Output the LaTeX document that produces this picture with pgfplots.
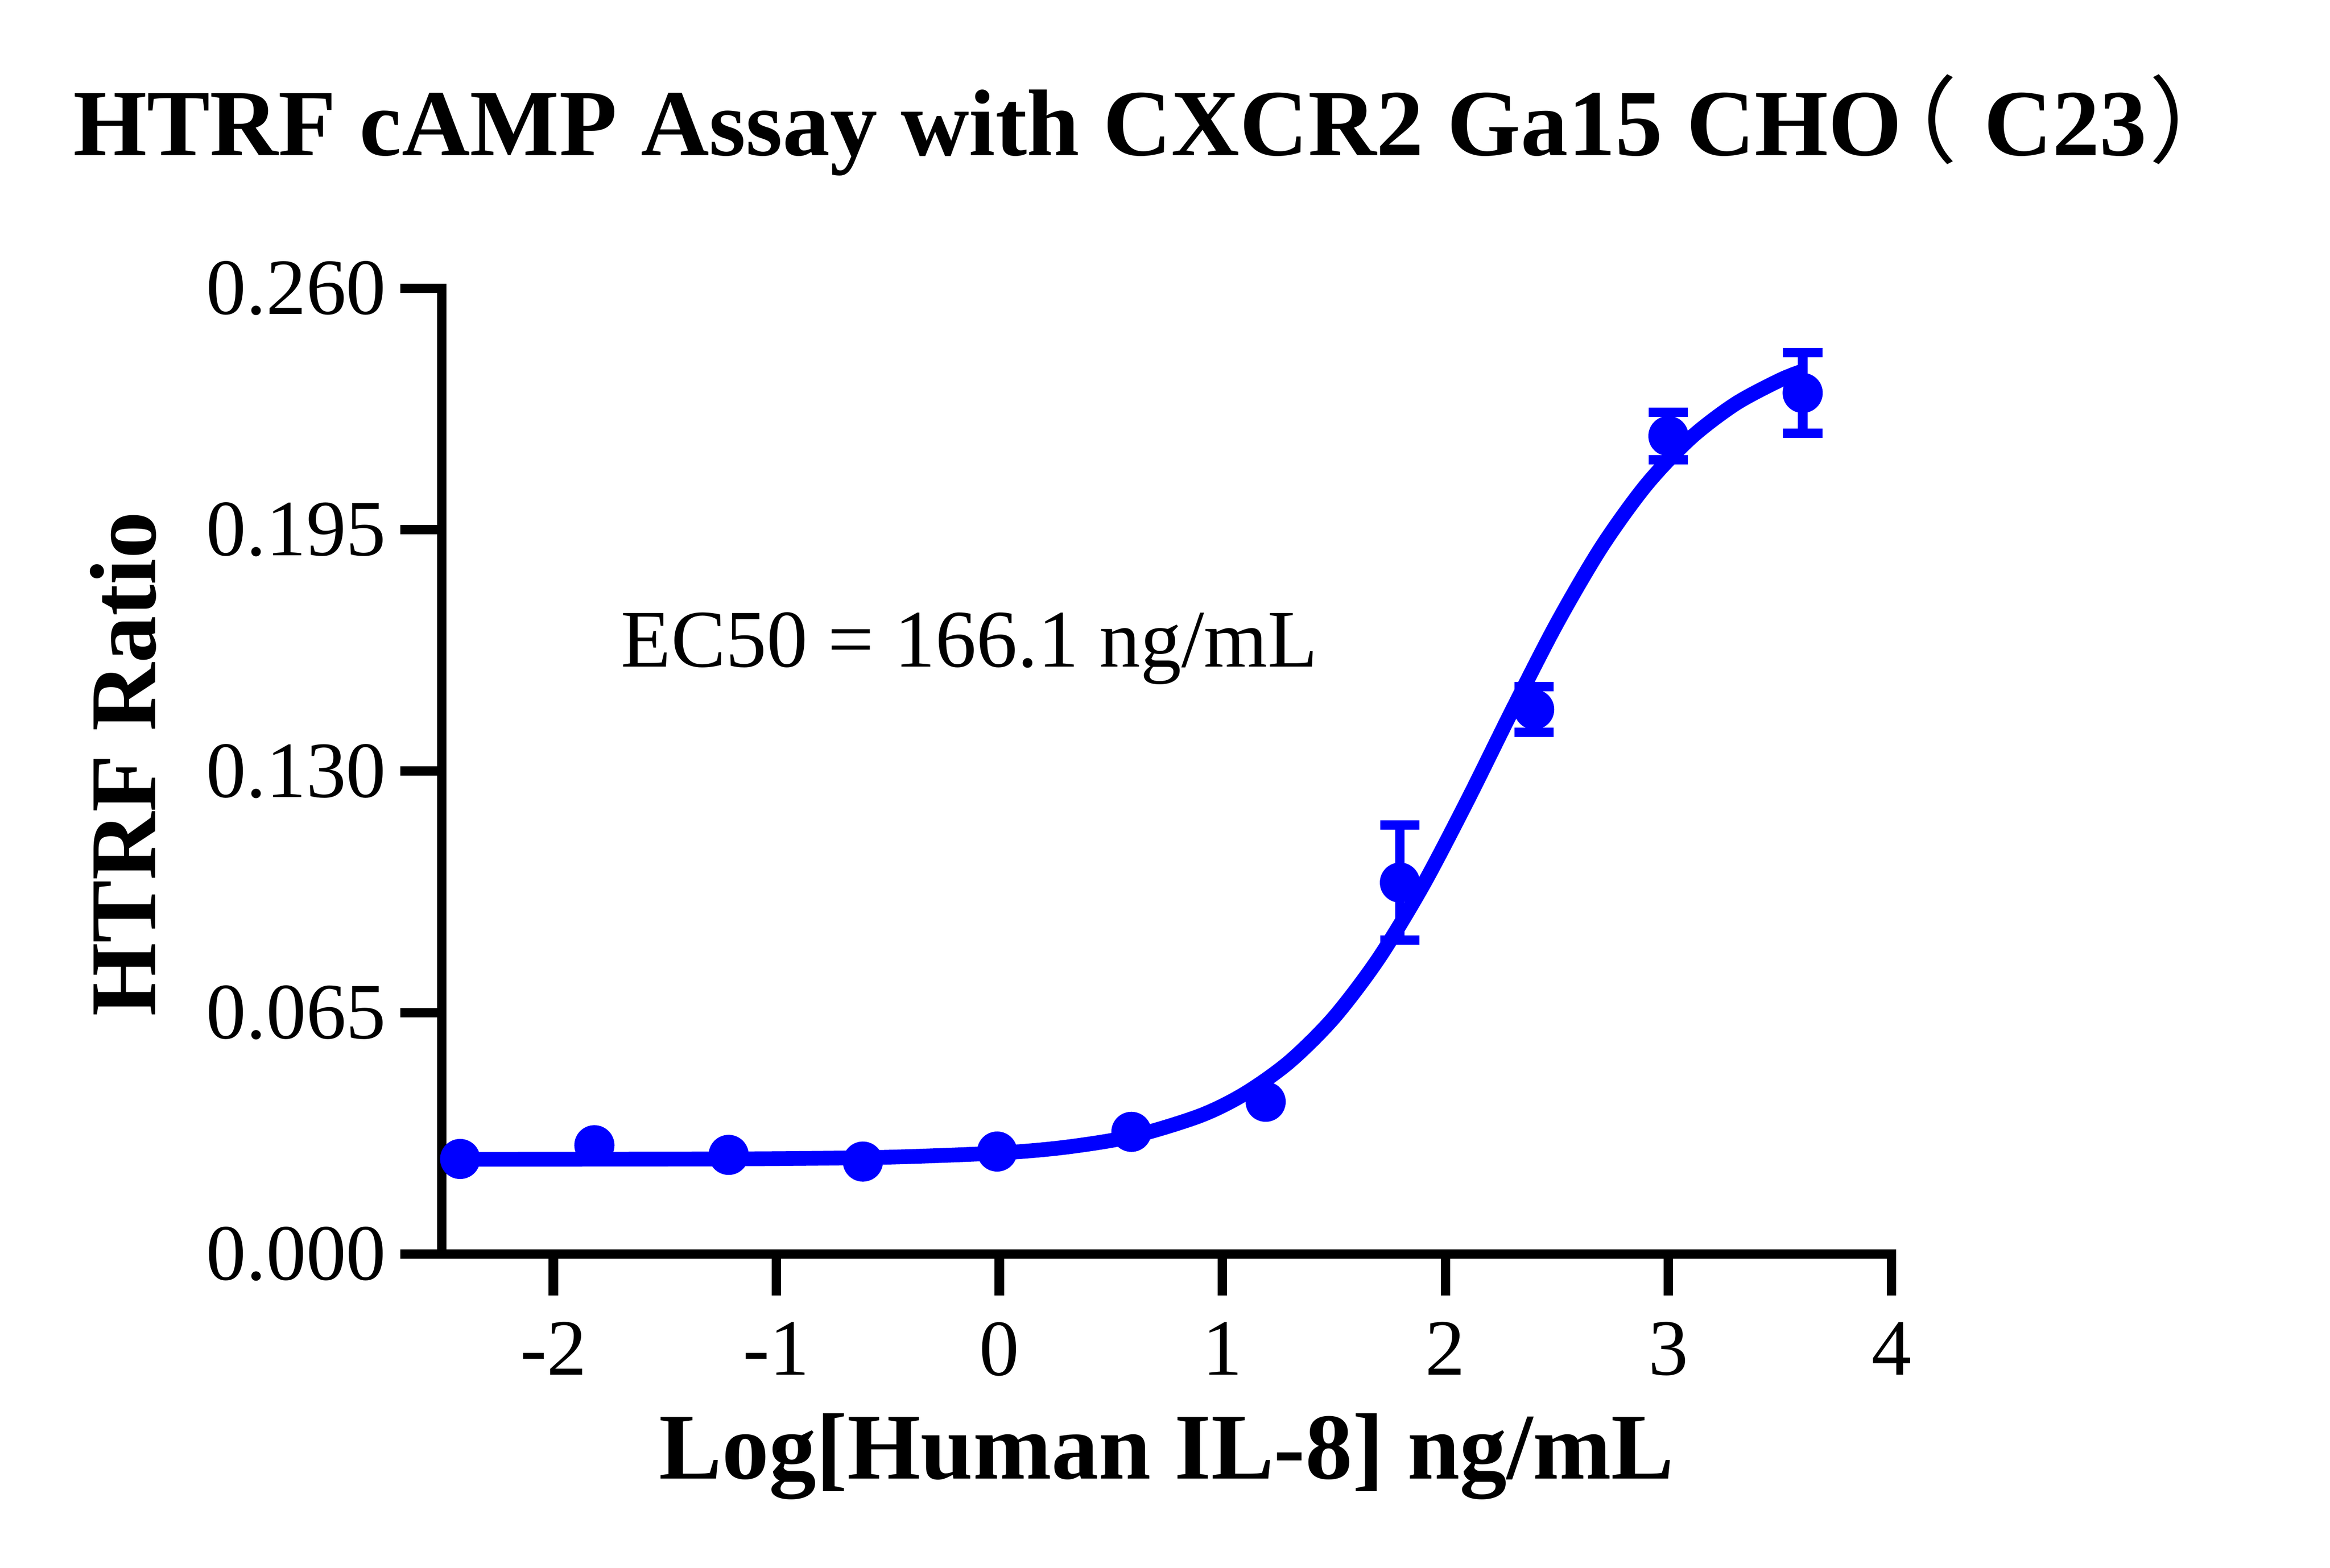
\documentclass[border=0pt]{standalone}
\usepackage{fontspec}
\setmainfont{Liberation Serif}
\newfontfamily\cjk{Noto Sans CJK SC}[RawFeature=+halt]
\usepackage{pgfplots}
\usepackage{pgfplotstable}
\pgfplotsset{compat=1.18}
\definecolor{pblue}{RGB}{0,0,255}

\pgfplotstableread{
x y
-2.418 0.0256
-1.816 0.0293
-1.214 0.0267
-0.612 0.0249
-0.010 0.0276
0.592 0.0329
1.194 0.0410
}\lowpts

\pgfplotstableread{
x y e
1.796 0.1000 0.0155
2.398 0.1466 0.0061
3.000 0.2202 0.0064
3.602 0.2318 0.0108
}\highpts

\pgfplotstableread{
x y
-2.418 0.02551
-1.5 0.02557
-1.0 0.02569
-0.5 0.02608
0.0 0.02722
0.3 0.02879
0.6 0.03175
0.9 0.03724
1.1 0.04317
1.3 0.05173
1.5 0.06366
1.7 0.07952
1.9 0.09932
2.1 0.12224
2.3 0.14645
2.5 0.16980
2.7 0.19033
2.9 0.20700
3.1 0.21967
3.3 0.22884
3.5 0.23525
3.602 0.23768
}\fitcurve

\begin{document}
\begin{tikzpicture}
\useasboundingbox (0,0) rectangle (569pt,383pt);
\begin{axis}[
  at={(107.9pt,76.64pt)}, anchor=south west,
  scale only axis, width=354pt, height=235.96pt,
  xmin=-2.5, xmax=4, ymin=0, ymax=0.26,
  axis x line=bottom, axis y line=left,
  axis line style={-, line width=2.3pt, line cap=rect, black},
  xtick={-2,-1,0,1,2,3,4},
  ytick={0,0.065,0.13,0.195,0.26},
  tick align=outside,
  major tick length=10.1pt,
  tick style={line width=2.3pt, black},
  minor tick num=0,
  /pgf/number format/assume math mode=true,
  ticklabel style={font=\fontsize{19.5}{23}\selectfont},
  yticklabel style={/pgf/number format/.cd, fixed, fixed zerofill, precision=3},
  xticklabel style={yshift=-3pt, /pgf/number format/.cd, fixed},
  clip=false,
]
\addplot[pblue, line width=3.6pt, smooth, no marks] table[x=x,y=y] {\fitcurve};
\addplot[pblue, only marks, mark=*, mark size=4.7pt, mark options={fill=pblue, draw=pblue}] table[x=x,y=y] {\lowpts};
\addplot[pblue, only marks, mark=*, mark size=4.7pt, mark options={fill=pblue, draw=pblue},
  error bars/.cd, y dir=both, y explicit,
  error bar style={line width=2.3pt, pblue},
  error mark options={rotate=90, mark size=4.8pt, line width=2.3pt, pblue}]
  table[x=x,y=y,y error=e] {\highpts};
\node[anchor=base west, inner sep=0pt, font=\fontsize{20}{24}\selectfont] at (axis cs:-1.70,0.1581) {EC50 = 166.1 ng/mL};
\end{axis}
\node[anchor=base west, inner sep=0pt, font=\bfseries\fontsize{23.1}{27}\selectfont] at (17.7pt,345.1pt) {HTRF cAMP Assay with CXCR2 Ga15 CHO\kern2pt{\cjk\mdseries （}\kern6.5pt C23\kern0.5pt{\cjk\mdseries ）}};
\node[anchor=base, inner sep=0pt, font=\bfseries\fontsize{23}{27}\selectfont] at (284.9pt,21.8pt) {Log[Human IL-8] ng/mL};
\node[anchor=base, inner sep=0pt, rotate=90, font=\bfseries\fontsize{23}{27}\selectfont] at (38pt,196.4pt) {HTRF Ratio};
\end{tikzpicture}
\end{document}
